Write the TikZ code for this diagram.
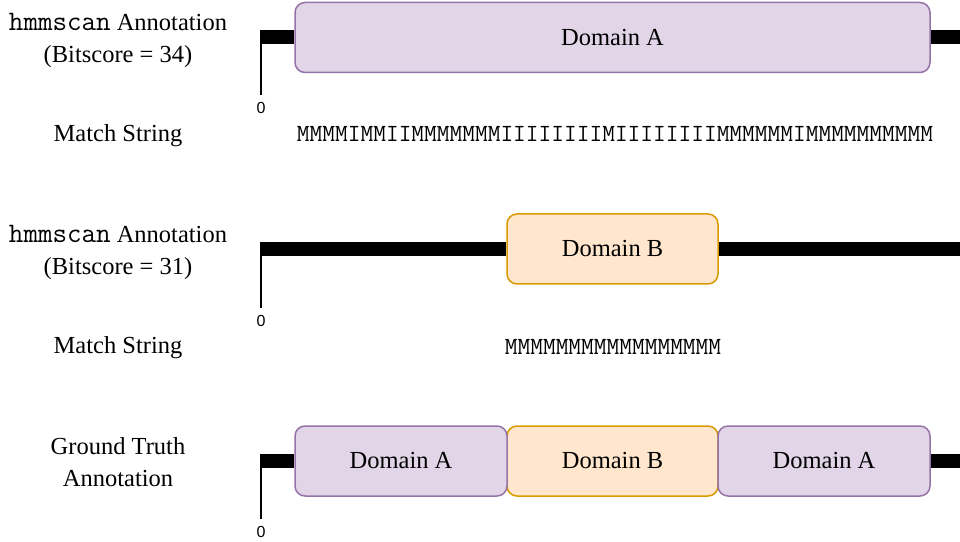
\documentclass[tikz,border=0pt]{standalone}
\usepackage{fontspec}
\setmainfont{Liberation Serif}
\newfontfamily\seqmono{Latin Modern Mono}
\newfontfamily\ticksans{Liberation Sans}
\usetikzlibrary{positioning}
\definecolor{domAfill}{HTML}{E1D5E7}
\definecolor{domAline}{HTML}{9673A6}
\definecolor{domBfill}{HTML}{FFE6CC}
\definecolor{domBline}{HTML}{D79B00}
\tikzset{
  domainbox/.style={
    draw,
    rounded corners=10pt,
    line width=1.5pt,
    minimum height=70pt,
    inner sep=0pt,
    font=\fontsize{24.5}{28}\selectfont
  },
  domainA/.style={domainbox, fill=domAfill, draw=domAline},
  domainB/.style={domainbox, fill=domBfill, draw=domBline},
  seqbar/.style={line width=14pt},
  seqtick/.style={line width=1.6pt},
  ticklabel/.style={font=\ticksans\fontsize{16}{18}\selectfont, inner sep=0pt},
  rowlabel/.style={align=center, inner sep=0pt, font=\fontsize{24.5}{32}\selectfont},
  matchstr/.style={inner sep=0pt, font=\seqmono\fontsize{24.7}{26}\selectfont}
}
\newcommand{\hmm}{{\seqmono\fontsize{28.2}{32}\selectfont hmmscan}}

\begin{document}
\begin{tikzpicture}[x=1pt, y=1pt]
  \useasboundingbox (0,0) rectangle (960,541);

  % row 1: hmmscan, bitscore 34
  \node[rowlabel] (lab1) at (118,500.5) {\hmm{} Annotation\\(Bitscore = 34)};
  \node[domainA, minimum width=635pt] (a1) at (612.5,503.5) {Domain A};
  \coordinate (s1) at (260,503.5);
  \coordinate (e1) at (960,503.5);
  \draw[seqbar] (s1) -- (a1.west);
  \draw[seqbar] (a1.east) -- (e1);
  \coordinate (t1) at (261,510.5);
  \node[ticklabel] (z1) at (261,433) {0};
  \draw[seqtick] (t1) -- ([yshift=7pt]z1.north);
  \node[rowlabel] (ms1) at (118,405) {Match String};
  \node[matchstr] (str1) at (615,407) {MMMMIMMIIMMMMMMMIIIIIIIIMIIIIIIIIMMMMMMIMMMMMMMMMM};

  % row 2: hmmscan, bitscore 31
  \node[rowlabel] (lab2) at (118,289) {\hmm{} Annotation\\(Bitscore = 31)};
  \node[domainB, minimum width=211pt] (b2) at (612.5,292) {Domain B};
  \coordinate (s2) at (260,292);
  \coordinate (e2) at (960,292);
  \draw[seqbar] (s2) -- (b2.west);
  \draw[seqbar] (b2.east) -- (e2);
  \coordinate (t2) at (261,299);
  \node[ticklabel] (z2) at (261,220) {0};
  \draw[seqtick] (t2) -- ([yshift=7pt]z2.north);
  \node[rowlabel] (ms2) at (118,193) {Match String};
  \node[matchstr] (str2) at (613,194) {MMMMMMMMMMMMMMMMM};

  % row 3: ground truth
  \node[rowlabel] (lab3) at (118,79) {Ground Truth\\Annotation};
  \node[domainB, minimum width=211pt] (b3) at (612.5,80) {Domain B};
  \node[domainA, minimum width=212pt, left=-1.5pt of b3] (a3) {Domain A};
  \node[domainA, minimum width=212pt, right=-1.5pt of b3] (c3) {Domain A};
  \coordinate (s3) at (260,80);
  \coordinate (e3) at (960,80);
  \draw[seqbar] (s3) -- (a3.west);
  \draw[seqbar] (c3.east) -- (e3);
  \coordinate (t3) at (261,87);
  \node[ticklabel] (z3) at (261,9) {0};
  \draw[seqtick] (t3) -- ([yshift=7pt]z3.north);
\end{tikzpicture}
\end{document}
